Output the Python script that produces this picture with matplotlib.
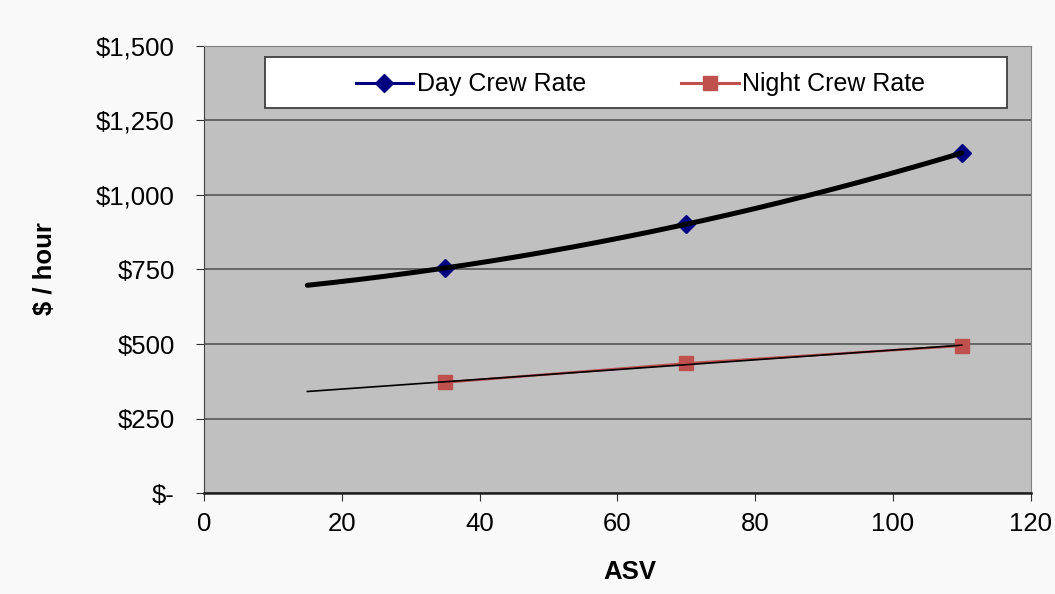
import numpy as np
import matplotlib
matplotlib.use("Agg")
import matplotlib.pyplot as plt
from matplotlib.lines import Line2D
from matplotlib.patches import Rectangle
from matplotlib.ticker import FuncFormatter

plt.rcParams['font.family'] = ['Liberation Sans', 'DejaVu Sans']

# crew rates per vessel size
asv = [35, 70, 110]
day_rate = [755, 902, 1141]
night_rate = [371, 435, 494]
x_ticks = [0, 20, 40, 60, 80, 100, 120]
y_ticks = [0, 250, 500, 750, 1000, 1250, 1500]

fig = plt.figure(figsize=(10.55, 5.94), dpi=100, facecolor='#f9f9f9')
ax = fig.add_axes([0.1934, 0.170, 0.7836, 0.7526])
ax.set_facecolor('#c0c0c0')

# night series line sits under its thin trend line
ax.plot(asv, night_rate, color='#c0504d', lw=1.8, zorder=3)

# trend lines: 2nd order poly for day, linear for night
xt = np.linspace(15, 110, 200)
p_day = np.polyfit(asv, day_rate, 2)
p_night = np.polyfit(asv, night_rate, 1)
ax.plot(xt, np.polyval(p_day, xt), color='black', lw=3.6, solid_capstyle='round', zorder=4)
ax.plot(xt, np.polyval(p_night, xt), color='black', lw=1.2, zorder=4)

ax.plot(asv, day_rate, ls='none', marker='D', ms=9, mfc='#000080', mec='#000080', zorder=3)
ax.plot(asv, night_rate, ls='none', marker='s', ms=10, mfc='#c0504d', mec='#c0504d', zorder=3)

ax.set_xlim(0, 120)
ax.set_ylim(0, 1500)
ax.set_xticks(x_ticks)
ax.set_yticks(y_ticks)
ax.yaxis.set_major_formatter(FuncFormatter(lambda v, p: '$-' if v == 0 else '${:,.0f}'.format(v)))
ax.grid(axis='y', color='#4d4d4d', lw=1.1)
ax.set_axisbelow(True)
ax.tick_params(labelsize=18.5, length=6, color='#303030')
ax.tick_params(axis='y', pad=15)
ax.tick_params(axis='x', pad=8)

for s in ['top', 'right']:
    ax.spines[s].set_color('#808080')
ax.spines['left'].set_color('#404040')
ax.spines['bottom'].set_color('#202020')
ax.spines['bottom'].set_linewidth(1.8)

ax.set_xlabel('ASV', fontsize=18.5, fontweight='bold')
ax.set_ylabel('$ / hour', fontsize=18.5, fontweight='bold')
ax.xaxis.set_label_coords(0.515, -0.177)
ax.xaxis.label.set_va('center')
ax.yaxis.set_label_coords(-0.192, 0.503)
ax.yaxis.label.set_va('center')

# legend box
ax.add_patch(Rectangle((0.074, 0.861), 0.897, 0.114, transform=ax.transAxes,
                       facecolor='white', edgecolor='#404040', lw=1.3, zorder=6))
handles = [
    Line2D([], [], color='#000080', lw=2.2, marker='D', ms=9, mfc='#000080', mec='#000080'),
    Line2D([], [], color='#c0504d', lw=2.2, marker='s', ms=10, mfc='#c0504d', mec='#c0504d'),
]
leg = ax.legend(handles, ['Day Crew Rate', 'Night Crew Rate'], ncol=2,
                loc='center', bbox_to_anchor=(0.528, 0.914), frameon=False,
                fontsize=18, handlelength=2.3, handletextpad=0.15, columnspacing=3.8,
                borderaxespad=0, borderpad=0)
leg.set_zorder(7)

fig.savefig('out.png', dpi=100, facecolor=fig.get_facecolor())
